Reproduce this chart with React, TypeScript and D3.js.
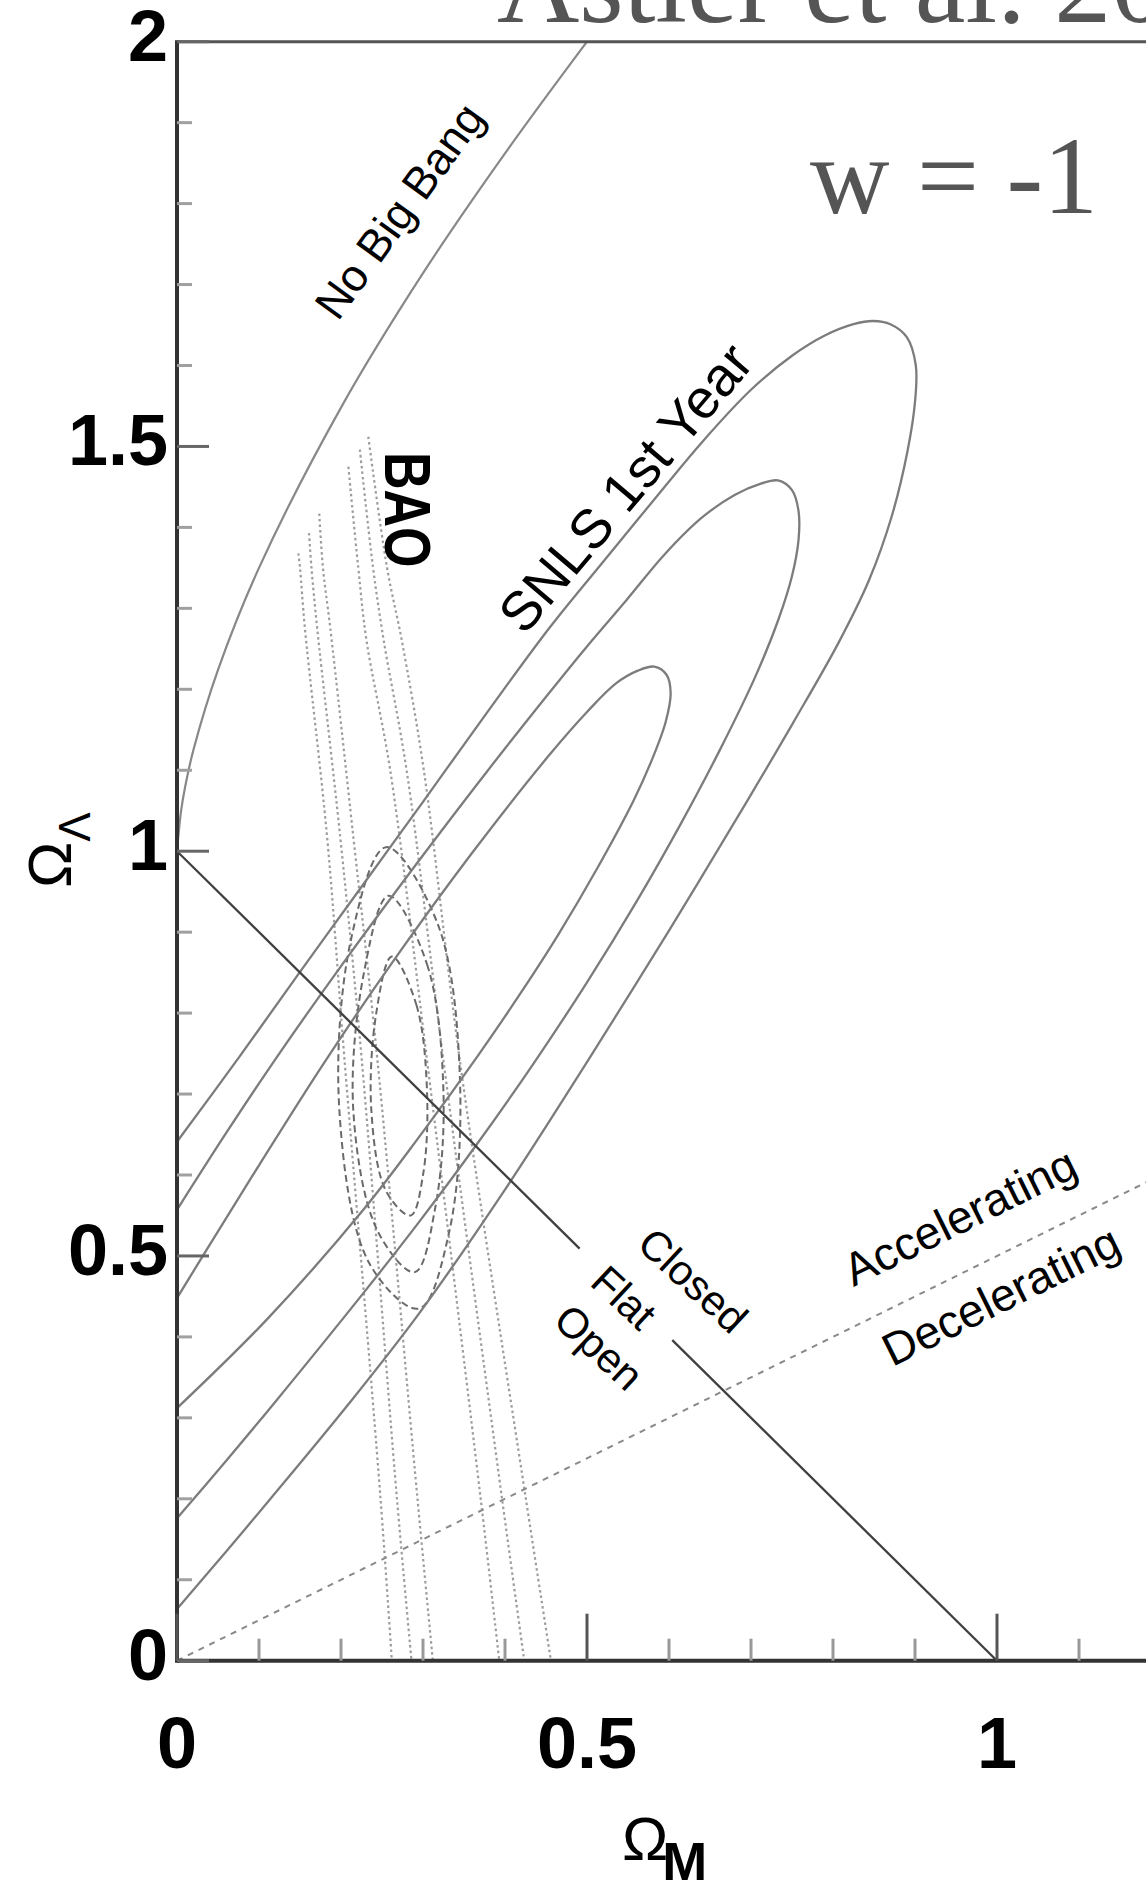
import React from "react";
import * as d3 from "d3";

type P = [number, number];

// ---------- data (Ω_M, Ω_Λ) ----------
const TITLE = "Astier et al. 2006";
const W_LABEL = "w = -1";

const xMajorTicks = [0, 0.5, 1];
const xMinorTicks = [0.1, 0.2, 0.3, 0.4, 0.6, 0.7, 0.8, 0.9, 1.1];
const xTickLabels = ["0", "0.5", "1"];
const yMajorTicks = [0, 0.5, 1, 1.5, 2];
const yMinorTicks = [0.1, 0.2, 0.3, 0.4, 0.6, 0.7, 0.8, 0.9, 1.1, 1.2, 1.3, 1.4, 1.6, 1.7, 1.8, 1.9];
const yTickLabels = ["0", "0.5", "1", "1.5", "2"];

const noBigBang: P[] = [[0, 1.0], [0.005, 1.05], [0.01, 1.08], [0.02, 1.125], [0.05, 1.224], [0.1, 1.35], [0.2, 1.548], [0.3, 1.714], [0.4, 1.862], [0.5, 2.0]];
const flatUpper: P[] = [[0, 1], [0.491, 0.509]];
const flatLower: P[] = [[0.604, 0.396], [1, 0]];
const accelLine: P[] = [[0, 0], [1.2, 0.6]];

// SNLS contours: lower branch from the Ω_Λ axis, round the tip, back down the upper branch
const snlsInner: P[] = [
  [0, 0.312], [0.11, 0.422], [0.228, 0.558], [0.296, 0.648], [0.366, 0.746], [0.418, 0.823], [0.465, 0.897],
  [0.512, 0.978], [0.557, 1.063], [0.58, 1.115], [0.596, 1.16], [0.602, 1.195], [0.597, 1.218], [0.582, 1.228],
  [0.562, 1.223], [0.535, 1.207], [0.5, 1.172], [0.455, 1.12], [0.36, 0.998], [0.265, 0.866], [0.179, 0.738],
  [0.1, 0.612], [0.037, 0.509], [0, 0.448],
];
const snlsMiddle: P[] = [
  [0, 0.176], [0.06, 0.247], [0.12, 0.32], [0.228, 0.455], [0.296, 0.543], [0.365, 0.637], [0.435, 0.738],
  [0.5, 0.838], [0.56, 0.937], [0.615, 1.035], [0.663, 1.127], [0.705, 1.215], [0.733, 1.285], [0.75, 1.34],
  [0.758, 1.385], [0.758, 1.42], [0.75, 1.446], [0.733, 1.458], [0.712, 1.454], [0.68, 1.44], [0.64, 1.412],
  [0.594, 1.366], [0.548, 1.31], [0.5, 1.253], [0.455, 1.197], [0.38, 1.101], [0.3, 0.995], [0.21, 0.872],
  [0.122, 0.746], [0.06, 0.652], [0, 0.557],
];
const snlsOuter: P[] = [
  [0, 0.064], [0.06, 0.135], [0.114, 0.2], [0.21, 0.318], [0.296, 0.43], [0.4, 0.582], [0.504, 0.746],
  [0.6, 0.902], [0.696, 1.063], [0.751, 1.158], [0.807, 1.258], [0.844, 1.335], [0.872, 1.415], [0.891, 1.495],
  [0.9, 1.555], [0.901, 1.6], [0.89, 1.635], [0.87, 1.651], [0.849, 1.655], [0.825, 1.651], [0.79, 1.637],
  [0.75, 1.612], [0.7, 1.57], [0.64, 1.505], [0.58, 1.432], [0.52, 1.358], [0.455, 1.277], [0.38, 1.174],
  [0.3, 1.061], [0.22, 0.949], [0.15, 0.851], [0.076, 0.746], [0, 0.641],
];

// SNLS + BAO joint contours (closed)
const jointInner: P[] = [[0.262, 0.87], [0.292, 0.81], [0.305, 0.7], [0.3, 0.6], [0.285, 0.55], [0.255, 0.58], [0.237, 0.68], [0.243, 0.8]];
const jointMiddle: P[] = [[0.258, 0.945], [0.305, 0.86], [0.325, 0.7], [0.315, 0.56], [0.29, 0.48], [0.245, 0.53], [0.215, 0.68], [0.228, 0.85]];
const jointOuter: P[] = [[0.255, 1.005], [0.318, 0.91], [0.345, 0.72], [0.332, 0.53], [0.295, 0.435], [0.235, 0.49], [0.198, 0.68], [0.212, 0.89]];

// BAO band edges (dotted)
const baoL1: P[] = [[0.148, 1.368], [0.15, 1.35], [0.156, 1.275], [0.183, 1.018], [0.204, 0.746], [0.248, 0.203], [0.262, 0]];
const baoL2: P[] = [[0.161, 1.393], [0.164, 1.35], [0.171, 1.275], [0.199, 1.018], [0.225, 0.746], [0.268, 0.203], [0.286, 0]];
const baoL3: P[] = [[0.1735, 1.417], [0.178, 1.35], [0.187, 1.275], [0.215, 1.018], [0.244, 0.746], [0.293, 0.203], [0.312, 0]];
const baoR1: P[] = [[0.209, 1.475], [0.221, 1.351], [0.231, 1.261], [0.26, 1.1], [0.305, 0.741], [0.37, 0.203], [0.393, 0]];
const baoR2: P[] = [[0.223, 1.496], [0.239, 1.351], [0.252, 1.261], [0.28, 1.1], [0.325, 0.741], [0.396, 0.203], [0.4235, 0]];
const baoR3: P[] = [[0.2333, 1.512], [0.256, 1.351], [0.274, 1.261], [0.301, 1.1], [0.345, 0.741], [0.425, 0.203], [0.456, 0]];

const snlsContours = [snlsInner, snlsMiddle, snlsOuter];
const jointContours = [jointInner, jointMiddle, jointOuter];
const baoLines = [baoL1, baoL2, baoL3, baoR1, baoR2, baoR3];

const SANS = "'Liberation Sans', Arial, Helvetica, sans-serif";
const SERIF = "'Liberation Serif', 'Times New Roman', serif";

export default function App() {
  const W = 1146;
  const H = 1882;
  const x = d3.scaleLinear().domain([0, 1]).range([177, 997]);
  const y = d3.scaleLinear().domain([0, 2]).range([1660.7, 41.7]);

  const smooth = d3.line<P>().x((d) => x(d[0])).y((d) => y(d[1])).curve(d3.curveCatmullRom.alpha(0.5));
  const straight = d3.line<P>().x((d) => x(d[0])).y((d) => y(d[1]));
  const closed = d3.line<P>().x((d) => x(d[0])).y((d) => y(d[1])).curve(d3.curveCatmullRomClosed.alpha(0.5));

  const left = x(0);
  const bottom = y(0);
  const top = y(2);

  return (
    <svg width={W} height={H} viewBox={`0 0 ${W} ${H}`} style={{ position: "absolute", left: 0, top: 0, display: "block", background: "#fff" }}>
      <defs>
        <clipPath id="plotClip">
          <rect x={left} y={top} width={W - left} height={bottom - top} />
        </clipPath>
      </defs>
      <rect x={0} y={0} width={W} height={H} fill="#fff" />

      <g clipPath="url(#plotClip)" fill="none">
        {baoLines.map((d, i) => (
          <path key={"bao" + i} d={smooth(d) || ""} stroke="#9c9c9c" strokeWidth={2.2} strokeDasharray="2.5,3" />
        ))}
        {jointContours.map((d, i) => (
          <path key={"j" + i} d={closed(d) || ""} stroke="#6a6a6a" strokeWidth={2} strokeDasharray="7,4" />
        ))}
        {snlsContours.map((d, i) => (
          <path key={"s" + i} d={smooth(d) || ""} stroke="#7c7c7c" strokeWidth={2.3} />
        ))}
        <path d={smooth(noBigBang) || ""} stroke="#888" strokeWidth={2.2} />
        <path d={straight(flatUpper) || ""} stroke="#404040" strokeWidth={2.3} />
        <path d={straight(flatLower) || ""} stroke="#404040" strokeWidth={2.3} />
        <path d={straight(accelLine) || ""} stroke="#8a8a8a" strokeWidth={2} strokeDasharray="6,6" />
      </g>

      {/* axes */}
      <line x1={left} x2={W} y1={top} y2={top} stroke="#555" strokeWidth={3} />
      <line x1={left} x2={W} y1={bottom} y2={bottom} stroke="#333" strokeWidth={4} />
      <line x1={left} x2={left} y1={top - 1.5} y2={bottom + 2} stroke="#333" strokeWidth={4} />

      {xMinorTicks.map((v) => (
        <line key={"xm" + v} x1={x(v)} x2={x(v)} y1={bottom} y2={bottom - 22} stroke="#999" strokeWidth={3} />
      ))}
      {xMajorTicks.map((v) => (
        <line key={"xM" + v} x1={x(v)} x2={x(v)} y1={bottom} y2={bottom - 47} stroke="#555" strokeWidth={3} />
      ))}
      {yMinorTicks.map((v) => (
        <line key={"ym" + v} x1={left} x2={left + 15} y1={y(v)} y2={y(v)} stroke="#a0a0a0" strokeWidth={3} />
      ))}
      {yMajorTicks.map((v) => (
        <line key={"yM" + v} x1={left} x2={left + 32} y1={y(v)} y2={y(v)} stroke="#666" strokeWidth={3} />
      ))}

      {xMajorTicks.map((v, i) => (
        <text key={"xl" + v} x={x(v)} y={1768} textAnchor="middle" fontFamily={SANS} fontWeight="bold" fontSize={72} fill="#000">
          {xTickLabels[i]}
        </text>
      ))}
      {yMajorTicks.map((v, i) => (
        <text key={"yl" + v} x={168} y={y(v) + 19} textAnchor="end" fontFamily={SANS} fontWeight="bold" fontSize={72} fill="#000">
          {yTickLabels[i]}
        </text>
      ))}

      {/* axis titles */}
      <text x={622} y={1860} fontFamily={SANS} fontSize={62} fill="#000">
        Ω<tspan fontSize={54} fontWeight="bold" dx={-6} dy={20}>M</tspan>
      </text>
      <text transform="translate(71,888) rotate(-90)" fontFamily={SANS} fontSize={62} fill="#000">
        Ω<tspan fontSize={44} dy={19}>Λ</tspan>
      </text>

      {/* title and w label */}
      <text x={497} y={22} fontFamily={SERIF} fontSize={114} fill="#555">{TITLE}</text>
      <text x={810} y={213} fontFamily={SERIF} fontSize={110} fill="#555">{W_LABEL}</text>

      {/* annotations */}
      <g fontFamily={SANS} fill="#000">
        <text transform="translate(412,220) rotate(-54)" textAnchor="middle" fontSize={45}>No Big Bang</text>
        <text transform="translate(640,500) rotate(-49.7)" textAnchor="middle" fontSize={55}>SNLS 1st Year</text>
        <text transform="translate(385,452) rotate(90) scale(1,1.25)" textAnchor="start" fontSize={52} fontWeight="bold">BAO</text>
        <text transform="translate(683,1291) rotate(43)" textAnchor="middle" fontSize={42}>Closed</text>
        <text transform="translate(614,1308) rotate(43)" textAnchor="middle" fontSize={42}>Flat</text>
        <text transform="translate(589,1358) rotate(43)" textAnchor="middle" fontSize={42}>Open</text>
        <text transform="translate(967,1231) rotate(-26.3)" textAnchor="middle" fontSize={46}>Accelerating</text>
        <text transform="translate(1008,1310) rotate(-26.3)" textAnchor="middle" fontSize={46}>Decelerating</text>
      </g>
    </svg>
  );
}
